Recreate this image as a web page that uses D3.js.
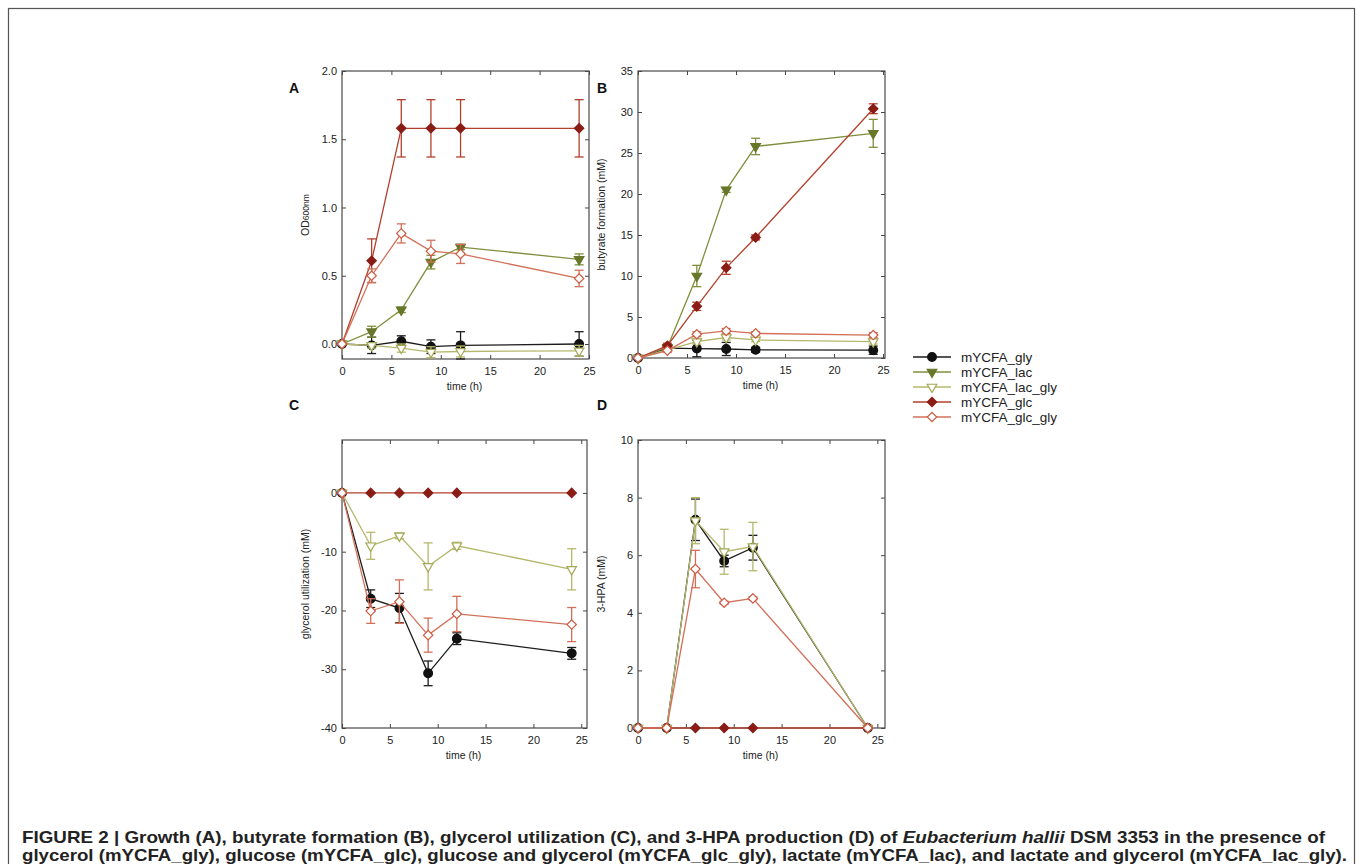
<!DOCTYPE html>
<html><head><meta charset="utf-8">
<script src="https://cdn.jsdelivr.net/npm/d3@7"></script>
<style>
html,body{margin:0;padding:0;background:#fff;}
svg{display:block;font-family:"Liberation Sans",Arial,sans-serif;}
</style></head>
<body><svg id="chart" width="1357" height="864"></svg>
<script>
// ---------- data ----------
const times = [0, 3, 6, 9, 12, 24];
const seriesNames = ["mYCFA_gly", "mYCFA_lac", "mYCFA_lac_gly", "mYCFA_glc", "mYCFA_glc_gly"];

// Panel A: OD600nm
const odGly      = [0, -0.01, 0.02, -0.02, -0.01, 0.0];
const odGlyErr   = [0, 0.06, 0.04, 0.05, 0.10, 0.09];
const odLac      = [0, 0.09, 0.25, 0.60, 0.71, 0.62];
const odLacErr   = [0, 0.04, 0.02, 0.05, 0.02, 0.04];
const odLacGly   = [0, -0.01, -0.03, -0.06, -0.055, -0.05];
const odLacGlyErr= [0, 0.02, 0.03, 0.04, 0.04, 0.04];
const odGlc      = [0, 0.61, 1.58, 1.58, 1.58, 1.58];
const odGlcErr   = [0, 0.16, 0.21, 0.21, 0.21, 0.21];
const odGlcGly   = [0, 0.50, 0.81, 0.68, 0.66, 0.48];
const odGlcGlyErr= [0, 0.05, 0.07, 0.08, 0.07, 0.06];

// Panel B: butyrate formation (mM)
const buGly      = [0, 1.2, 1.15, 1.1, 1.0, 0.95];
const buGlyErr   = [0, 0.3, 1.0, 0.8, 0.3, 0.5];
const buLac      = [0, 1.3, 10.0, 20.5, 25.8, 27.4];
const buLacErr   = [0, 0.3, 1.3, 0.3, 1.0, 1.7];
const buLacGly   = [0, 1.0, 2.0, 2.5, 2.2, 2.0];
const buLacGlyErr= [0, 0.2, 0.3, 0.3, 0.2, 0.3];
const buGlc      = [0, 1.5, 6.3, 11.0, 14.7, 30.4];
const buGlcErr   = [0, 0.3, 0.5, 0.8, 0.3, 0.6];
const buGlcGly   = [0, 0.9, 2.9, 3.3, 3.0, 2.8];
const buGlcGlyErr= [0, 0.2, 0.3, 0.3, 0.2, 0.3];

// Panel C: glycerol utilization (mM)  (no lactate-only series shown)
const glGly      = [0, -18.0, -19.6, -30.7, -24.8, -27.3];
const glGlyErr   = [0, 1.5, 2.5, 2.1, 1.0, 1.0];
const glLacGly   = [0, -9.0, -7.3, -12.5, -9.0, -13.0];
const glLacGlyErr= [0, 2.3, 0.5, 4.0, 0.6, 3.5];
const glGlc      = [0, 0, 0, 0, 0, 0];
const glGlcErr   = [0, 0, 0, 0, 0, 0];
const glGlcGly   = [0, -20.1, -18.5, -24.2, -20.6, -22.4];
const glGlcGlyErr= [0, 2.1, 3.7, 2.9, 3.0, 2.9];

// Panel D: 3-HPA (mM)  (no lactate-only series shown)
const hpGly      = [0, 0, 7.23, 5.8, 6.26, 0];
const hpGlyErr   = [0, 0, 0.72, 0.2, 0.43, 0];
const hpLacGly   = [0, 0, 7.2, 6.12, 6.3, 0];
const hpLacGlyErr= [0, 0, 0.8, 0.78, 0.84, 0];
const hpGlc      = [0, 0, 0, 0, 0, 0];
const hpGlcErr   = [0, 0, 0, 0, 0, 0];
const hpGlcGly   = [0, 0, 5.52, 4.35, 4.5, 0];
const hpGlcGlyErr= [0, 0, 0.65, 0.05, 0.05, 0];

const xTicks = [0, 5, 10, 15, 20, 25];
const yTicksA = [0, 0.5, 1.0, 1.5, 2.0];
const yTicksB = [0, 5, 10, 15, 20, 25, 30, 35];
const yTicksC = [-40, -30, -20, -10, 0];
const yTicksD = [0, 2, 4, 6, 8, 10];

// ---------- styles ----------
const styles = [
  {line: "#1c1c1c", stroke: "#111", fill: "#111", shape: "circle"},
  {line: "#7f8f3c", stroke: "#66772a", fill: "#66772a", shape: "tri"},
  {line: "#b4b86c", stroke: "#a3a955", fill: "#fff", shape: "tri"},
  {line: "#b3402c", stroke: "#8a1c16", fill: "#8a1c16", shape: "diamond"},
  {line: "#d27058", stroke: "#cc5a42", fill: "#fff", shape: "diamond"}
];

const plain = d => String(d);
const one = d => d.toFixed(1);

const panels = [
  {letter: "A", lx: 289, ly: 93, box: [342, 71, 589, 359], xDom: [0, 25], yDom: [-0.11, 2.0], yTicks: yTicksA, fmt: one,
   yTitle: "OD", ySub: "600nm",
   series: [[0, odGly, odGlyErr], [1, odLac, odLacErr], [2, odLacGly, odLacGlyErr], [3, odGlc, odGlcErr], [4, odGlcGly, odGlcGlyErr]]},
  {letter: "B", lx: 597, ly: 93, box: [638, 71, 885, 358], xDom: [0, 25.2], yDom: [0, 35], yTicks: yTicksB, fmt: plain,
   yTitle: "butyrate formation (mM)",
   series: [[0, buGly, buGlyErr], [1, buLac, buLacErr], [2, buLacGly, buLacGlyErr], [3, buGlc, buGlcErr], [4, buGlcGly, buGlcGlyErr]]},
  {letter: "C", lx: 289, ly: 410, box: [342, 440, 587, 728], xDom: [0, 25.6], yDom: [-40, 9], yTicks: yTicksC, fmt: plain,
   yTitle: "glycerol utilization (mM)",
   series: [[0, glGly, glGlyErr], [2, glLacGly, glLacGlyErr], [3, glGlc, glGlcErr], [4, glGlcGly, glGlcGlyErr]]},
  {letter: "D", lx: 597, ly: 410, box: [638, 440, 885, 728], xDom: [0, 25.8], yDom: [0, 10], yTicks: yTicksD, fmt: plain,
   yTitle: "3-HPA (mM)",
   series: [[0, hpGly, hpGlyErr], [2, hpLacGly, hpLacGlyErr], [3, hpGlc, hpGlcErr], [4, hpGlcGly, hpGlcGlyErr]]}
];

const svg = d3.select("#chart");

// outer frame
svg.append("rect").attr("x", 8.5).attr("y", 8.5).attr("width", 1346).attr("height", 900)
  .attr("fill", "none").attr("stroke", "#555").attr("stroke-width", 1.2);

function symbolPath(shape) {
  if (shape === "circle") return d3.symbol(d3.symbolCircle, 60)();
  if (shape === "tri") return d3.symbol(d3.symbolTriangle, 40)();
  return d3.symbol(d3.symbolSquare, 44)();
}
function symbolTransform(shape, x, y) {
  if (shape === "tri") return `translate(${x},${y}) rotate(180)`;
  if (shape === "diamond") return `translate(${x},${y}) rotate(45)`;
  return `translate(${x},${y})`;
}

panels.forEach(p => {
  const [x0, y0, x1, y1] = p.box;
  const x = d3.scaleLinear().domain(p.xDom).range([x0, x1]);
  const y = d3.scaleLinear().domain(p.yDom).range([y1, y0]);
  const g = svg.append("g");

  const axB = g.append("g").attr("transform", `translate(0,${y1})`)
    .call(d3.axisBottom(x).tickValues(xTicks).tickSizeInner(-4).tickSizeOuter(0).tickPadding(8).tickFormat(plain));
  const axT = g.append("g").attr("transform", `translate(0,${y0})`)
    .call(d3.axisTop(x).tickValues(xTicks).tickSizeInner(-4).tickSizeOuter(0).tickFormat(""));
  const axL = g.append("g").attr("transform", `translate(${x0},0)`)
    .call(d3.axisLeft(y).tickValues(p.yTicks).tickSizeInner(-4).tickSizeOuter(0).tickPadding(5).tickFormat(p.fmt));
  const axR = g.append("g").attr("transform", `translate(${x1},0)`)
    .call(d3.axisRight(y).tickValues(p.yTicks).tickSizeInner(-4).tickSizeOuter(0).tickFormat(""));
  [axB, axT, axL, axR].forEach(a => {
    a.select(".domain").remove();
    a.selectAll("line").attr("stroke", "#444");
    a.selectAll("text").attr("fill", "#222").style("font-size", "11px");
  });
  g.append("rect").attr("x", x0).attr("y", y0).attr("width", x1 - x0).attr("height", y1 - y0)
    .attr("fill", "none").attr("stroke", "#4a4a4a").attr("stroke-width", 1.2);

  g.append("text").attr("x", (x0 + x1) / 2 - 1).attr("y", y1 + 31).attr("text-anchor", "middle")
    .style("font-size", "10.5px").attr("fill", "#222").text("time (h)");
  const yt = g.append("text").attr("transform", `translate(${x0 - 33},${(y0 + y1) / 2}) rotate(-90)`)
    .attr("text-anchor", "middle").style("font-size", "10.5px").attr("fill", "#222");
  if (p.ySub) {
    yt.append("tspan").text(p.yTitle);
    yt.append("tspan").style("font-size", "8.5px").text(p.ySub);
  } else yt.text(p.yTitle);
  g.append("text").attr("x", p.lx).attr("y", p.ly)
    .style("font-size", "14px").style("font-weight", "bold").attr("fill", "#111").text(p.letter);

  p.series.forEach(([si, vals, errs]) => {
    const st = styles[si];
    const pts = times.map((t, k) => ({t, v: vals[k], e: errs[k]}));
    g.append("path").datum(pts).attr("fill", "none").attr("stroke", st.line).attr("stroke-width", 1.3)
      .attr("d", d3.line().x(d => x(d.t)).y(d => y(d.v)));
    pts.filter(d => d.e > 0).forEach(d => {
      const cx = x(d.t), ya = y(d.v + d.e), yb = y(d.v - d.e);
      const eg = g.append("g").attr("stroke", st.line).attr("stroke-width", 1.3);
      eg.append("line").attr("x1", cx).attr("x2", cx).attr("y1", ya).attr("y2", yb);
      eg.append("line").attr("x1", cx - 4.5).attr("x2", cx + 4.5).attr("y1", ya).attr("y2", ya);
      eg.append("line").attr("x1", cx - 4.5).attr("x2", cx + 4.5).attr("y1", yb).attr("y2", yb);
    });
    g.selectAll(null).data(pts).enter().append("path")
      .attr("d", symbolPath(st.shape))
      .attr("transform", d => symbolTransform(st.shape, x(d.t), y(d.v)))
      .attr("fill", st.fill).attr("stroke", st.stroke).attr("stroke-width", 1.2);
  });
});

// legend
const legY = d3.scaleLinear().domain([0, 4]).range([357, 417]);
seriesNames.forEach((name, i) => {
  const st = styles[i];
  const yy = legY(i);
  svg.append("line").attr("x1", 913).attr("x2", 951).attr("y1", yy).attr("y2", yy)
    .attr("stroke", st.line).attr("stroke-width", 1.3);
  svg.append("path").attr("d", symbolPath(st.shape)).attr("transform", symbolTransform(st.shape, 932, yy))
    .attr("fill", st.fill).attr("stroke", st.stroke).attr("stroke-width", 1.2);
  svg.append("text").attr("x", 961).attr("y", yy + 4.5).style("font-size", "13.5px").attr("fill", "#222").text(name);
});

// caption
const cap = svg.append("text").attr("x", 22).attr("y", 843).style("font-size", "17px").style("font-weight", "bold")
  .attr("fill", "#222").attr("textLength", 1303).attr("lengthAdjust", "spacingAndGlyphs");
cap.append("tspan").text("FIGURE 2 | Growth (A), butyrate formation (B), glycerol utilization (C), and 3-HPA production (D) of ");
cap.append("tspan").style("font-style", "italic").text("Eubacterium hallii");
cap.append("tspan").text(" DSM 3353 in the presence of");
svg.append("text").attr("x", 22).attr("y", 861).style("font-size", "17px").style("font-weight", "bold").attr("fill", "#222")
  .attr("textLength", 1325).attr("lengthAdjust", "spacingAndGlyphs")
  .text("glycerol (mYCFA_gly), glucose (mYCFA_glc), glucose and glycerol (mYCFA_glc_gly), lactate (mYCFA_lac), and lactate and glycerol (mYCFA_lac_gly).");
</script>
</body></html>
